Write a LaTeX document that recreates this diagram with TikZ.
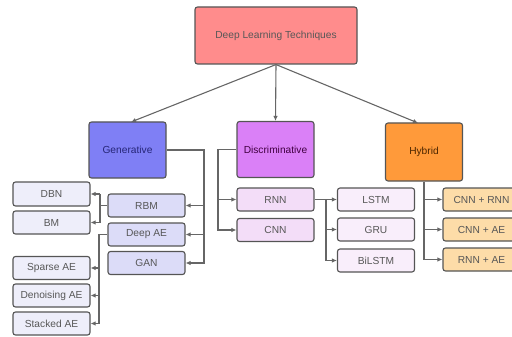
\documentclass[tikz,border=0pt]{standalone}
\usepackage{fontspec}
\setmainfont{Liberation Sans}
\usetikzlibrary{arrows.meta}
\definecolor{rootfill}{HTML}{FF8C8C}
\definecolor{genfill}{HTML}{7F7FF5}
\definecolor{discfill}{HTML}{DA80F7}
\definecolor{hybfill}{HTML}{FF9A3A}
\definecolor{genkid}{HTML}{DCDCF8}
\definecolor{leaf}{HTML}{EEEEFA}
\definecolor{disckid}{HTML}{F3DDF8}
\definecolor{rnnkid}{HTML}{F9EEFB}
\definecolor{hybkid}{HTML}{FDDCA8}
\definecolor{edge}{HTML}{555555}
\definecolor{wire}{HTML}{666666}
\tikzset{
  box/.style={draw=edge, line width=1.1pt, rounded corners=2.5pt, align=center,
    inner sep=0pt, font=\fontsize{10.2}{12}\selectfont, text=black!66},
  bigbox/.style={box, minimum width=77pt, minimum height=56pt},
  smallbox/.style={box, minimum width=77pt, minimum height=23pt},
  wirestyle/.style={draw=wire, line width=1.1pt},
  arr/.style={wirestyle, -{Latex[length=5pt,width=4.5pt]}},
}
\begin{document}
\begin{tikzpicture}[x=1pt,y=-1pt]
\useasboundingbox (0,0) rectangle (512,337);
\clip (0,0) rectangle (512,337);

% root and the three families
\node[box, fill=rootfill, minimum width=162pt, minimum height=57pt] (root) at (276,35.5) {Deep Learning Techniques};
\node[bigbox, fill=genfill, text=black!55!blue!70!gray] (gen) at (127.5,150) {Generative};
\node[bigbox, fill=discfill, text=black!50!violet] (disc) at (275.5,149.5) {Discriminative};
\node[bigbox, fill=hybfill, minimum height=58pt, text=black!70!orange] (hyb) at (424,152) {Hybrid};

% generative branch
\node[smallbox, fill=genkid] (rbm) at (146.5,205.5) {RBM};
\node[smallbox, fill=genkid] (dae) at (146.5,234.5) {Deep AE};
\node[smallbox, fill=genkid] (gan) at (146.5,263) {GAN};
\node[smallbox, fill=leaf, minimum height=24pt] (dbn) at (51.5,194) {DBN};
\node[smallbox, fill=leaf] (bm) at (51.5,222.5) {BM};
\node[smallbox, fill=leaf] (sae) at (51.5,268) {Sparse AE};
\node[smallbox, fill=leaf] (dnae) at (51.5,295.5) {Denoising AE};
\node[smallbox, fill=leaf] (stae) at (51.5,323.5) {Stacked AE};

% discriminative branch
\node[smallbox, fill=disckid] (rnn) at (275.5,199.5) {RNN};
\node[smallbox, fill=disckid] (cnn) at (275.5,230) {CNN};
\node[smallbox, fill=rnnkid] (lstm) at (376,199.5) {LSTM};
\node[smallbox, fill=rnnkid] (gru) at (376,229.5) {GRU};
\node[smallbox, fill=rnnkid] (bilstm) at (376,260.5) {BiLSTM};

% hybrid branch
\node[smallbox, fill=hybkid] (cnnrnn) at (481.5,199.5) {CNN + RNN};
\node[smallbox, fill=hybkid] (cnnae) at (481.5,229.5) {CNN + AE};
\node[smallbox, fill=hybkid] (rnnae) at (481.5,259.5) {RNN + AE};

% bus lines
\coordinate (genbus) at (204,0);
\coordinate (rbmbus) at (100,0);
\coordinate (daebus) at (99,0);
\coordinate (discbus) at (218,0);
\coordinate (rnnbus) at (326,0);

% root to families
\draw[arr] (root.south) -- (131,122);
\draw[arr] (root.south) -- (disc.north);
\draw[arr] (root.south) -- (418,123);

% trunks run to the last child; the other children branch off them
\draw[arr] (gen.east) -- (genbus |- gen.east) |- (gan.east);
\foreach \k in {rbm,dae}
  \draw[arr] (genbus |- \k.east) -- (\k.east);

\draw[wirestyle] (rbm.west) -- (rbmbus |- rbm.west);
\draw[arr] (rbmbus |- dbn.east) -- (dbn.east);
\draw[arr] (rbmbus |- dbn.east) -- (rbmbus |- bm.east) -- (bm.east);

\draw[arr] (dae.west) -- (daebus |- dae.west) |- (stae.east);
\foreach \k in {sae,dnae}
  \draw[arr] (daebus |- \k.east) -- (\k.east);

\draw[arr] (disc.west) -- (discbus |- disc.west) |- (cnn.west);
\draw[arr] (discbus |- rnn.west) -- (rnn.west);

\draw[arr] (rnn.east) -- (rnnbus |- rnn.east) |- (bilstm.west);
\draw[arr] (rnnbus |- gru.west) -- (gru.west);
\draw[arr] (rnnbus |- lstm.west) -- (lstm.west);

\draw[arr] (hyb.south) |- (rnnae.west);
\foreach \k in {cnnrnn,cnnae}
  \draw[arr] (hyb.south |- \k.west) -- (\k.west);
\end{tikzpicture}
\end{document}
